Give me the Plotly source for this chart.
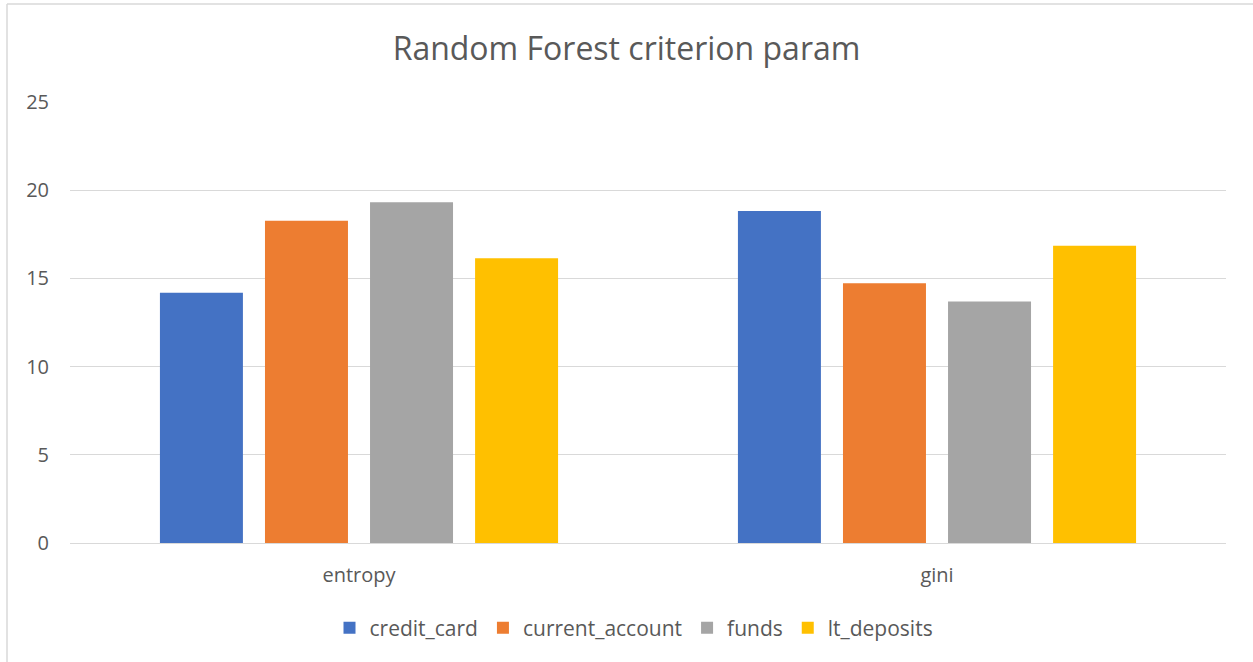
import plotly.graph_objects as go

categories = ["entropy", "gini"]
series_names = ["credit_card", "current_account", "funds", "lt_deposits"]
credit_card = [14.18, 18.82]
current_account = [18.27, 14.73]
funds = [19.32, 13.69]
lt_deposits = [16.14, 16.85]
colors = ["#4472C4", "#ED7D31", "#A5A5A5", "#FFC000"]

values = [credit_card, current_account, funds, lt_deposits]

FONT = "Open Sans"
TXT = "#595959"

fig = go.Figure()
for name, vals, col in zip(series_names, values, colors):
    fig.add_trace(go.Bar(x=categories, y=vals, name=name, marker=dict(color=col, line=dict(width=0))))

W, H = 1253, 662
L, R, T, B = 70, 27, 102, 119
pw, ph = W - L - R, H - T - B

def px2x(px):
    return (px - L) / pw

def py2y(py):
    return (H - B - py) / ph

fig.update_layout(
    width=W, height=H,
    margin=dict(l=L, r=R, t=T, b=B),
    paper_bgcolor="white", plot_bgcolor="white",
    barmode="group", bargap=0.273, bargroupgap=0.21,
    title=dict(text="Random Forest criterion param", x=0.5, xanchor="center",
               y=1 - 49 / H, yanchor="middle",
               font=dict(family=FONT, size=32, color=TXT)),
    font=dict(family=FONT, color=TXT),
    showlegend=True,
    legend=dict(orientation="h", x=px2x(634), xanchor="center", y=py2y(628), yanchor="middle",
                font=dict(family=FONT, size=21, color=TXT), itemwidth=30,
                tracegroupgap=0, traceorder="normal"),
    xaxis=dict(showgrid=False, showline=True, linecolor="#D9D9D9", linewidth=1,
               ticks="", tickfont=dict(family=FONT, size=20, color=TXT),
               ticklabelstandoff=14, fixedrange=True),
    yaxis=dict(range=[0, 25], tickvals=[0, 5, 10, 15, 20, 25], showgrid=True,
               gridcolor="#D9D9D9", gridwidth=1, zeroline=False, showline=False,
               tickfont=dict(family=FONT, size=20, color=TXT), ticks="",
               ticklabelstandoff=20, fixedrange=True),
)

# outer chart border (top and left visible)
fig.add_shape(type="line", xref="paper", yref="paper",
              x0=px2x(7), x1=px2x(1260), y0=py2y(4), y1=py2y(4),
              line=dict(color="#D9D9D9", width=1.5))
fig.add_shape(type="line", xref="paper", yref="paper",
              x0=px2x(7), x1=px2x(7), y0=py2y(4), y1=py2y(670),
              line=dict(color="#D9D9D9", width=1.5))

fig.write_html("out.html", config={"displayModeBar": False},
               post_script="document.body.style.margin='0';")
